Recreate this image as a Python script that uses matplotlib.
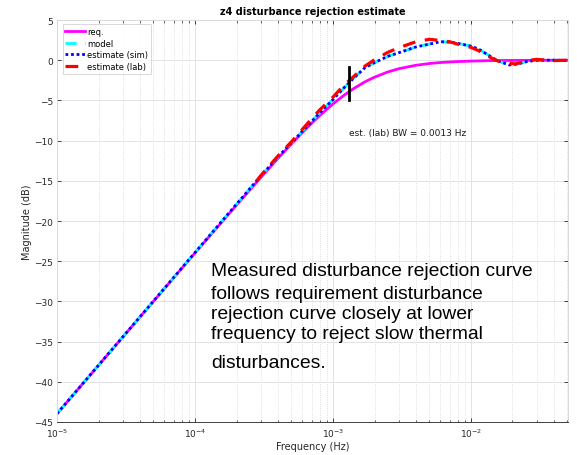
"""
Disturbance rejection estimate for the z4 loop.
"""

import matplotlib
matplotlib.use("Agg")
import matplotlib.pyplot as plt
from matplotlib.ticker import LogLocator, NullFormatter

# frequency grid (Hz) shared by requirement and model curves
freq = [1e-5, 2e-5, 5e-5, 1e-4, 2e-4, 3e-4, 4e-4, 5e-4, 6e-4, 7e-4, 8e-4, 1e-3,
        1.2e-3, 1.4e-3, 1.7e-3, 2e-3, 2.5e-3, 3e-3, 4e-3, 5e-3, 6e-3, 7e-3, 8e-3,
        1e-2, 1.13e-2, 1.3e-2, 1.45e-2, 1.6e-2, 1.9e-2, 2.2e-2, 2.5e-2, 3e-2, 4e-2, 5e-2]

req_db = [-43.97, -37.95, -29.99, -23.98, -18.02, -14.59, -12.20, -10.41, -9.00, -7.85,
          -6.90, -5.44, -4.37, -3.57, -2.70, -2.11, -1.46, -1.06, -0.63, -0.41, -0.29,
          -0.22, -0.17, -0.11, -0.09, -0.064, -0.052, -0.042, -0.03, -0.022, -0.017,
          -0.012, -0.007, -0.004]

model_db = [-43.97, -37.94, -29.97, -23.93, -17.9, -14.4, -12.0, -10.3, -8.83, -7.63,
            -6.56, -4.9, -3.45, -2.3, -0.95, -0.3, 0.48, 0.93, 1.65, 2.0, 2.3, 2.25,
            2.1, 1.75, 1.4, 0.77, 0.25, -0.15, -0.6, -0.45, -0.2, 0.0, 0.0, -0.05]
sim_db = list(model_db)

# lab estimate only covers the upper part of the band
lab_freq = [2.8e-4, 3e-4, 4e-4, 5e-4, 6e-4, 7e-4, 8e-4, 1e-3, 1.2e-3, 1.4e-3, 1.7e-3,
            2e-3, 2.5e-3, 3e-3, 4e-3, 5e-3, 6e-3, 7e-3, 8e-3, 1e-2, 1.13e-2, 1.3e-2,
            1.45e-2, 1.6e-2, 1.8e-2, 2.1e-2, 2.4e-2, 2.7e-2, 3e-2, 4e-2, 5e-2]
lab_db = [-15.0, -14.35, -11.9, -10.15, -8.6, -7.3, -6.2, -4.6, -3.1, -2.1, -0.75,
          0.05, 0.98, 1.55, 2.3, 2.6, 2.45, 2.3, 2.0, 1.6, 1.2, 0.6, 0.16, -0.15,
          -0.35, -0.47, -0.2, 0.02, 0.1, -0.05, 0.0]

bw_lab = 0.0013
bw_marker = (-0.85, -4.95)

note_lines = ["Measured disturbance rejection curve",
              "follows requirement disturbance",
              "rejection curve closely at lower",
              "frequency to reject slow thermal",
              "disturbances."]
note_baselines = [276, 299, 319, 339, 368]  # pixel rows from the top

W, H = 577, 456
fig = plt.figure(figsize=(W / 100, H / 100), dpi=100)
ax = fig.add_axes([57 / W, 1 - 423 / H, (568 - 57) / W, (423 - 21) / H])

ax.semilogx(freq, req_db, color="#ff00ff", linewidth=2, label="req.")
ax.semilogx(freq, model_db, color="#00ffff", linewidth=2, linestyle=(0, (4, 3)), label="model")
ax.semilogx(freq, sim_db, color="#0000ff", linewidth=2, linestyle=(0, (1, 1)), label="estimate (sim)")
ax.semilogx(lab_freq, lab_db, color="#ff0000", linewidth=2.3, linestyle=(0, (4, 3)), label="estimate (lab)")

ax.plot([bw_lab, bw_lab], bw_marker, color="black", linewidth=2)
ax.text(bw_lab, -9.3, "est. (lab) BW = 0.0013 Hz", fontsize=6.5, color="#1a1a1a")

ax.set_xlim(1e-5, 0.0505)
ax.set_ylim(-45, 5)
ax.set_yticks(range(-45, 6, 5))
ax.xaxis.set_major_locator(LogLocator(base=10, numticks=10))
ax.xaxis.set_minor_locator(LogLocator(base=10, subs=range(2, 10), numticks=20))
ax.xaxis.set_minor_formatter(NullFormatter())

ax.grid(True, which="major", color="#e3e3e3", linewidth=0.7, linestyle="-")
ax.grid(True, which="minor", axis="x", color="#d6d6d6", linewidth=0.6, linestyle=":")
ax.set_axisbelow(True)

ax.tick_params(which="both", direction="in", top=True, right=True, colors="#262626",
               labelsize=6.5, labelcolor="#262626")
ax.tick_params(which="major", length=3, width=0.6)
ax.tick_params(which="minor", length=1.8, width=0.5)
ax.tick_params(axis="y", pad=3)
for side in ["top", "right", "left"]:
    ax.spines[side].set_color("#d9d9d9")
ax.spines["bottom"].set_color("#404040")
for sp in ax.spines.values():
    sp.set_linewidth(0.7)

ax.set_title("z4 disturbance rejection estimate", fontsize=7, fontweight="bold", pad=4)
ax.set_xlabel("Frequency (Hz)", fontsize=7, color="#262626", labelpad=1)
ax.set_ylabel("Magnitude (dB)", fontsize=7, color="#262626", labelpad=1.5)

leg = ax.legend(loc="upper left", bbox_to_anchor=(5.5 / 511, 1 - 4 / 402), fontsize=6,
                frameon=True, fancybox=False, handlelength=2.3, handletextpad=0.3,
                borderaxespad=0, labelspacing=0.32, borderpad=0.35)
leg.get_frame().set_edgecolor("#c8c8c8")
leg.get_frame().set_linewidth(0.6)

for line, yb in zip(note_lines, note_baselines):
    fig.text(211 / W, 1 - yb / H, line, fontsize=13.9, family="Liberation Sans",
             color="black", va="baseline")

fig.savefig("out.png", dpi=100)
